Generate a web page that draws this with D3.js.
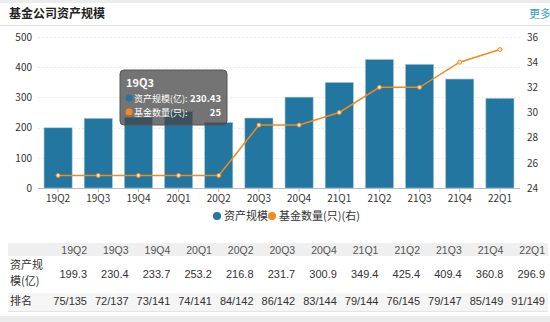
<!DOCTYPE html>
<html><head><meta charset="utf-8">
<script src="https://cdn.jsdelivr.net/npm/d3@7"></script>
<style>
html,body{margin:0;padding:0;background:#fff;}
svg{display:block;}
</style></head>
<body><svg id="c" width="550" height="322"></svg>
<script>
const categories = ["19Q2","19Q3","19Q4","20Q1","20Q2","20Q3","20Q4","21Q1","21Q2","21Q3","21Q4","22Q1"];
const assetScale = [199.3,230.43,233.7,253.2,216.8,231.7,300.9,349.4,425.4,409.4,360.8,296.9];
const fundCount = [25,25,25,25,25,29,29,30,32,32,34,35];
const tableAssets = ["199.3","230.4","233.7","253.2","216.8","231.7","300.9","349.4","425.4","409.4","360.8","296.9"];
const tableRank = ["75/135","72/137","73/141","74/141","84/142","86/142","83/144","79/144","76/145","79/147","85/149","91/149"];
const leftTicks = [0,100,200,300,400,500];
const rightTicks = [24,26,28,30,32,34,36];

const svg = d3.select("#c");
const cjk = "'Noto Sans CJK SC','Noto Sans',sans-serif";
const arial = "'Liberation Sans',Arial,sans-serif";

// frame
svg.append("rect").attr("x",0).attr("y",0).attr("width",550).attr("height",3).attr("fill","#ececec");
svg.append("rect").attr("x",0).attr("y",316).attr("width",550).attr("height",6).attr("fill","#ececec");
svg.append("text").attr("x",9).attr("y",18).attr("font-family",cjk).attr("font-size",12).attr("font-weight","bold").attr("fill","#222").text("基金公司资产规模");
svg.append("text").attr("x",529).attr("y",18).attr("font-family",cjk).attr("font-size",11).attr("fill","#3a9fca").text("更多");
svg.append("line").attr("x1",0).attr("x2",550).attr("y1",25.5).attr("y2",25.5).attr("stroke","#dcdcdc");

// scales
const x = d3.scaleBand().domain(categories).range([38,520]).paddingInner(0.3).paddingOuter(0.15);
const yL = d3.scaleLinear().domain([0,500]).range([188,37]);
const yR = d3.scaleLinear().domain([24,36]).range([188,37]);

// grid
svg.append("g").selectAll("line").data(leftTicks.slice(1)).join("line")
  .attr("x1",38).attr("x2",520).attr("y1",d=>Math.round(yL(d))+0.5).attr("y2",d=>Math.round(yL(d))+0.5)
  .attr("stroke","#e8ebf0").attr("stroke-dasharray","2,2");

// left axis
const gl = svg.append("g").attr("transform","translate(38,0)")
  .call(d3.axisLeft(yL).tickValues(leftTicks).tickSize(0).tickPadding(6));
gl.select(".domain").remove();
gl.selectAll("text").attr("font-family",cjk).attr("font-size",10).attr("fill","#333");
// right axis
const gr = svg.append("g").attr("transform","translate(520,0)")
  .call(d3.axisRight(yR).tickValues(rightTicks).tickSize(0).tickPadding(7));
gr.select(".domain").remove();
gr.selectAll("text").attr("font-family",cjk).attr("font-size",10).attr("fill","#333");

// bars
svg.append("g").selectAll("rect").data(categories).join("rect")
  .attr("x",d=>x(d)).attr("width",x.bandwidth())
  .attr("y",(d,i)=>yL(assetScale[i])).attr("height",(d,i)=>yL(0)-yL(assetScale[i]))
  .attr("fill","#22769f").attr("stroke","#9cc6dc").attr("stroke-width",0.6);

// x axis
const gx = svg.append("g").attr("transform","translate(0,188)")
  .call(d3.axisBottom(x).tickSize(4).tickPadding(3));
gx.select(".domain").attr("stroke","#bbb").attr("d","M38,0.5H520");
gx.selectAll("line").attr("stroke","#bbb");
gx.selectAll("text").attr("font-family",cjk).attr("font-size",10).attr("fill","#333");

// line
const line = d3.line().x((d,i)=>x(categories[i])+x.bandwidth()/2).y(d=>yR(d));
svg.append("path").datum(fundCount).attr("d",line).attr("fill","none").attr("stroke","#f28a1c").attr("stroke-width",1.5);
svg.append("g").selectAll("circle").data(fundCount).join("circle")
  .attr("cx",(d,i)=>x(categories[i])+x.bandwidth()/2).attr("cy",d=>yR(d)).attr("r",2)
  .attr("fill","#fde2c4").attr("stroke","#f28a1c").attr("stroke-width",1);

// legend
const lg = svg.append("g").attr("font-family",cjk).attr("font-size",11).attr("fill","#333");
lg.append("circle").attr("cx",217).attr("cy",216).attr("r",4).attr("fill","#22769f");
lg.append("text").attr("x",224).attr("y",220).text("资产规模");
lg.append("circle").attr("cx",272).attr("cy",216).attr("r",4).attr("fill","#f28a1c");
lg.append("text").attr("x",279).attr("y",220).text("基金数量(只)(右)");

// tooltip (19Q3)
const ti = 1;
const tt = svg.append("g").attr("font-family",cjk).attr("fill","#fff");
tt.append("rect").attr("x",120).attr("y",70).attr("width",107).attr("height",55).attr("rx",4)
  .attr("fill","rgba(70,70,70,0.75)").attr("stroke","#555");
tt.append("text").attr("x",126).attr("y",87).attr("font-size",11).attr("font-weight","bold").text(categories[ti]);
tt.append("circle").attr("cx",129).attr("cy",98).attr("r",3.5).attr("fill","#22769f");
tt.append("text").attr("x",134).attr("y",102).attr("font-size",9).text("资产规模(亿):");
tt.append("text").attr("x",221).attr("y",102).attr("text-anchor","end").attr("font-size",9.5).attr("font-weight","bold")
  .text(assetScale[ti].toFixed(2));
tt.append("circle").attr("cx",129).attr("cy",112).attr("r",3.5).attr("fill","#f28a1c");
tt.append("text").attr("x",134).attr("y",116).attr("font-size",9).text("基金数量(只):");
tt.append("text").attr("x",221).attr("y",116).attr("text-anchor","end").attr("font-size",9.5).attr("font-weight","bold").text(fundCount[ti]);

// table
const tx = d3.scalePoint().domain(categories).range([87,545]);
const tb = svg.append("g").attr("font-family",arial).attr("font-size",11).attr("fill","#333");
tb.append("rect").attr("x",8).attr("y",243).attr("width",540).attr("height",13).attr("fill","#efefef");
tb.append("rect").attr("x",8).attr("y",293).attr("width",540).attr("height",18).attr("fill","#f5f5f5");
tb.append("line").attr("x1",8).attr("x2",548).attr("y1",311.5).attr("y2",311.5).attr("stroke","#e4e4e4");
tb.selectAll("text.h").data(categories).join("text").attr("class","h")
  .attr("x",d=>tx(d)).attr("y",253.5).attr("text-anchor","end").attr("font-size",10.5).attr("fill","#555").text(d=>d);
tb.selectAll("text.v").data(tableAssets).join("text").attr("class","v")
  .attr("x",(d,i)=>tx(categories[i])).attr("y",278).attr("text-anchor","end").text(d=>d);
tb.selectAll("text.r").data(tableRank).join("text").attr("class","r")
  .attr("x",(d,i)=>tx(categories[i])).attr("y",305).attr("text-anchor","end").text(d=>d);
tb.append("text").attr("x",10).attr("y",269).attr("font-family",cjk).text("资产规");
tb.append("text").attr("x",10).attr("y",285).attr("font-family",cjk).text("模(亿)");
tb.append("text").attr("x",10).attr("y",305).attr("font-family",cjk).text("排名");
</script></body></html>
